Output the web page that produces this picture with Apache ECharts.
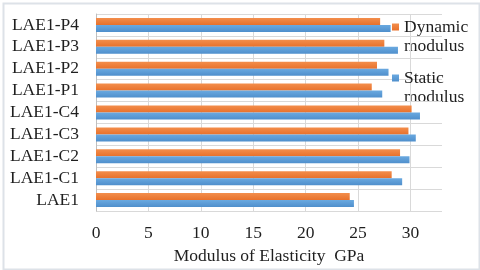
<!DOCTYPE html>
<html>
<head>
<meta charset="utf-8">
<script src="https://cdn.jsdelivr.net/npm/echarts@6/dist/echarts.min.js"></script>
<style>html,body{margin:0;padding:0;background:#fff;}#c{width:480px;height:270px;}</style>
</head>
<body>
<div id="c"></div>
<script>
const categories = ['LAE1','LAE1-C1','LAE1-C2','LAE1-C3','LAE1-C4','LAE1-P1','LAE1-P2','LAE1-P3','LAE1-P4'];
const dynamicModulus = [24.2, 28.2, 29.0, 29.8, 30.1, 26.3, 26.8, 27.5, 27.1];
const staticModulus = [24.6, 29.2, 29.9, 30.5, 30.9, 27.3, 27.9, 28.8, 28.1];
const xTicks = [0, 5, 10, 15, 20, 25, 30];
const xTitle = 'Modulus of Elasticity  GPa';
const seriesNames = ['Dynamic modulus', 'Static modulus'];
const legendFirstLines = ['Dynamic', 'Static'];
const legendSecondLine = 'modulus';

const font = '"Liberation Serif", "Times New Roman", serif';
const txt = '#1f1f1f';
const fs = 17.5;
const chart = echarts.init(document.getElementById('c'), null, {renderer: 'canvas'});
chart.setOption({
  animation: false,
  backgroundColor: '#fff',
  grid: {left: 96, top: 14, right: 38, bottom: 55, containLabel: false},
  xAxis: {
    type: 'value', min: 0, max: 33, interval: 5,
    axisLine: {show: false}, axisTick: {show: false},
    splitLine: {show: true, showMaxLine: false, lineStyle: {color: '#d9d9d9', width: 1}},
    axisLabel: {
      fontFamily: font, fontSize: fs, color: txt, margin: 13, showMaxLabel: false,
      formatter: v => (xTicks.indexOf(v) >= 0 ? String(v) : '')
    },
    name: xTitle, nameLocation: 'middle', nameGap: 36,
    nameTextStyle: {fontFamily: font, fontSize: fs, color: txt}
  },
  yAxis: {
    type: 'category', data: categories,
    axisLine: {show: true, lineStyle: {color: '#bfbfbf'}},
    axisTick: {show: false},
    splitLine: {show: true, lineStyle: {color: '#d9d9d9', width: 1}},
    axisLabel: {fontFamily: font, fontSize: fs, color: txt, margin: 17, interval: 0}
  },
  legend: {
    orient: 'vertical', left: 392, top: 17.5, padding: 0, itemGap: 32,
    itemWidth: 7, itemHeight: 7, icon: 'rect',
    data: [seriesNames[0], seriesNames[1]],
    formatter: n => legendFirstLines[seriesNames.indexOf(n)],
    textStyle: {fontFamily: font, fontSize: fs, color: txt, lineHeight: 19}
  },
  series: [
    {name: seriesNames[0], type: 'bar', data: dynamicModulus, barWidth: 7, barGap: '0%',
     itemStyle: {color: new echarts.graphic.LinearGradient(0,0,0,1,[{offset:0,color:'#f38e4c'},{offset:1,color:'#e8712b'}])}},
    {name: seriesNames[1], type: 'bar', data: staticModulus, barWidth: 7, barGap: '0%',
     itemStyle: {color: new echarts.graphic.LinearGradient(0,0,0,1,[{offset:0,color:'#6aa9e0'},{offset:1,color:'#4f8fcc'}])}}
  ],
  graphic: [
    {type: 'rect', left: 1, top: 1, shape: {width: 476, height: 266}, style: {fill: 'none', stroke: '#dde2e8', lineWidth: 2}, silent: true},
    {type: 'text', x: 404, y: 46, silent: true, style: {text: legendSecondLine, font: fs + 'px ' + font, fill: txt, verticalAlign: 'middle'}},
    {type: 'text', x: 404, y: 97, silent: true, style: {text: legendSecondLine, font: fs + 'px ' + font, fill: txt, verticalAlign: 'middle'}}
  ]
});
</script>
</body>
</html>
